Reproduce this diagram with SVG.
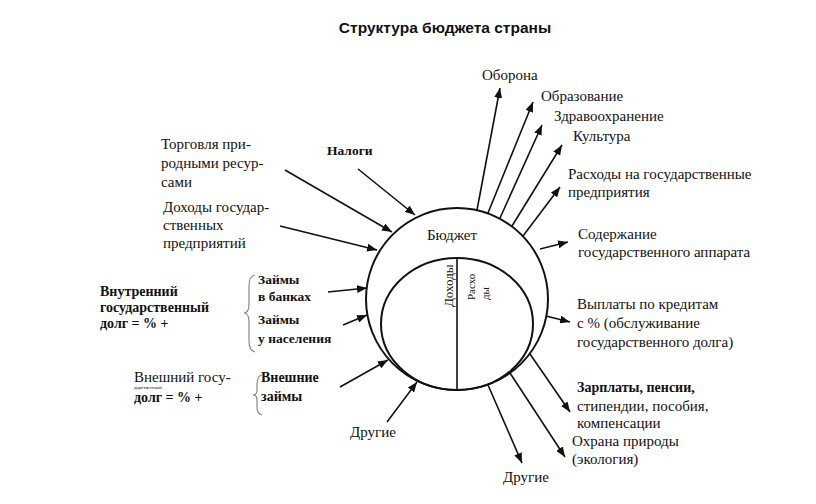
<svg xmlns="http://www.w3.org/2000/svg" width="816" height="504" viewBox="0 0 816 504">
<style>
.t{font-family:"Liberation Serif","Times New Roman","DejaVu Serif",serif;font-size:15px;fill:#111}
.b{font-weight:bold;font-size:14px}
.title{font-family:"Liberation Sans","DejaVu Sans",sans-serif;font-size:15.5px;font-weight:bold;fill:#111}
.ar{stroke:#111;stroke-width:1.6;fill:none;marker-end:url(#ah)}
.sh{stroke:#111;stroke-width:2;fill:none}
.br{stroke:#888;stroke-width:1.2;fill:none}
</style>
<defs>
<marker id="ah" markerUnits="userSpaceOnUse" markerWidth="11" markerHeight="8" refX="10" refY="4" orient="auto">
<path d="M0,0 L10,4 L0,8 z" fill="#111"/>
</marker>
</defs>
<rect width="816" height="504" fill="#fff"/>
<text class="title" x="445" y="33" text-anchor="middle">Структура бюджета страны</text>

<g id="budget">
<circle class="sh" cx="457" cy="299" r="91"/>
<ellipse class="sh" cx="457" cy="324" rx="76" ry="66"/>
<line class="sh" x1="457" y1="258" x2="457" y2="390" style="stroke-width:1.6"/>
<text class="t" x="452" y="240" text-anchor="middle">Бюджет</text>
<text class="t" style="font-size:13px" transform="translate(453,307) rotate(-90)">Доходы</text>
<text class="t" style="font-size:11px" transform="translate(475,300) rotate(-90)">Расхо</text>
<text class="t" style="font-size:11px" transform="translate(489,300) rotate(-90)">ды</text>
</g>

<g id="connectors">
<line class="ar" x1="358" y1="169" x2="415" y2="215"/>
<line class="ar" x1="285" y1="170" x2="392" y2="232"/>
<line class="ar" x1="280" y1="226" x2="377" y2="250"/>
<line class="ar" x1="328" y1="292" x2="367" y2="288"/>
<line class="ar" x1="343" y1="325" x2="367" y2="315"/>
<line class="ar" x1="340" y1="387" x2="388" y2="360"/>
<line class="ar" x1="387" y1="422" x2="417" y2="382"/>

<line class="ar" x1="477" y1="210" x2="500" y2="88"/>
<line class="ar" x1="488" y1="213" x2="533" y2="102"/>
<line class="ar" x1="500" y1="218" x2="542" y2="125"/>
<line class="ar" x1="512" y1="226" x2="562" y2="145"/>
<line class="ar" x1="523" y1="236" x2="560" y2="187"/>
<line class="ar" x1="540" y1="249" x2="568" y2="242"/>
<line class="ar" x1="546" y1="316" x2="570" y2="322"/>
<line class="ar" x1="530" y1="354" x2="570" y2="412"/>
<line class="ar" x1="510" y1="373" x2="565" y2="457"/>
<line class="ar" x1="488" y1="385" x2="522" y2="463"/>
</g>

<g id="nalogi"><text class="t b" x="327" y="155" style="font-size:13.5px">Налоги</text></g>
<g id="torgovlya"><text class="t" x="161" y="149">Торговля при-</text><text class="t" x="161" y="168">родными ресур-</text><text class="t" x="161" y="187">сами</text></g>
<g id="dohody-gp"><text class="t" x="163" y="212">Доходы государ-</text><text class="t" x="163" y="230">ственных</text><text class="t" x="163" y="248">предприятий</text></g>

<g id="vnutr-dolg"><text class="t b" x="100" y="296">Внутренний</text><text class="t b" x="100" y="312">государственный</text><text class="t b" x="100" y="328">долг = % +</text></g>
<g id="brace1"><path class="br" d="M255,275 Q249,276 249,286 L249,304 Q249,313 244,313 Q249,313 249,322 L249,341 Q249,351 255,352"/></g>
<g id="zaymy"><text class="t b" x="258" y="284" style="font-size:13.5px">Займы</text><text class="t b" x="258" y="301" style="font-size:13.5px">в банках</text><text class="t b" x="258" y="324" style="font-size:13.5px">Займы</text><text class="t b" x="258" y="343" style="font-size:13.5px">у населения</text></g>

<g id="vnesh-dolg"><text class="t" x="134" y="382">Внешний госу-</text><text class="t" x="134" y="389" style="font-size:5px">дарственный</text><text class="t b" x="134" y="402">долг = % +</text></g>
<g id="brace2"><path class="br" d="M262,375 Q257,376 257,384 L257,390 Q257,395 253,395 Q257,395 257,400 L257,407 Q257,414 262,415"/></g>
<g id="vnesh-zaymy"><text class="t b" x="261" y="382">Внешние</text><text class="t b" x="261" y="401">займы</text></g>
<g id="drugie-in"><text class="t" x="350" y="437">Другие</text></g>

<g id="oborona"><text class="t" x="482" y="80">Оборона</text></g>
<g id="obrazovanie"><text class="t" x="541" y="101">Образование</text></g>
<g id="zdrav"><text class="t" x="554" y="121">Здравоохранение</text></g>
<g id="kultura"><text class="t" x="573" y="141">Культура</text></g>
<g id="rashody-gp"><text class="t" x="568" y="179">Расходы на государственные</text><text class="t" x="568" y="197">предприятия</text></g>
<g id="soderzhanie"><text class="t" x="578" y="239">Содержание</text><text class="t" x="578" y="257">государственного аппарата</text></g>
<g id="vyplaty"><text class="t" x="577" y="309">Выплаты по кредитам</text><text class="t" x="577" y="328">с % (обслуживание</text><text class="t" x="577" y="347">государственного долга)</text></g>
<g id="zarplaty"><text class="t b" x="577" y="392">Зарплаты, пенсии,</text><text class="t" x="577" y="411">стипендии,  пособия,</text><text class="t" x="577" y="428">компенсации</text></g>
<g id="ohrana"><text class="t" x="572" y="446">Охрана природы</text><text class="t" x="572" y="464">(экология)</text></g>
<g id="drugie-out"><text class="t" x="503" y="482">Другие</text></g>
</svg>
